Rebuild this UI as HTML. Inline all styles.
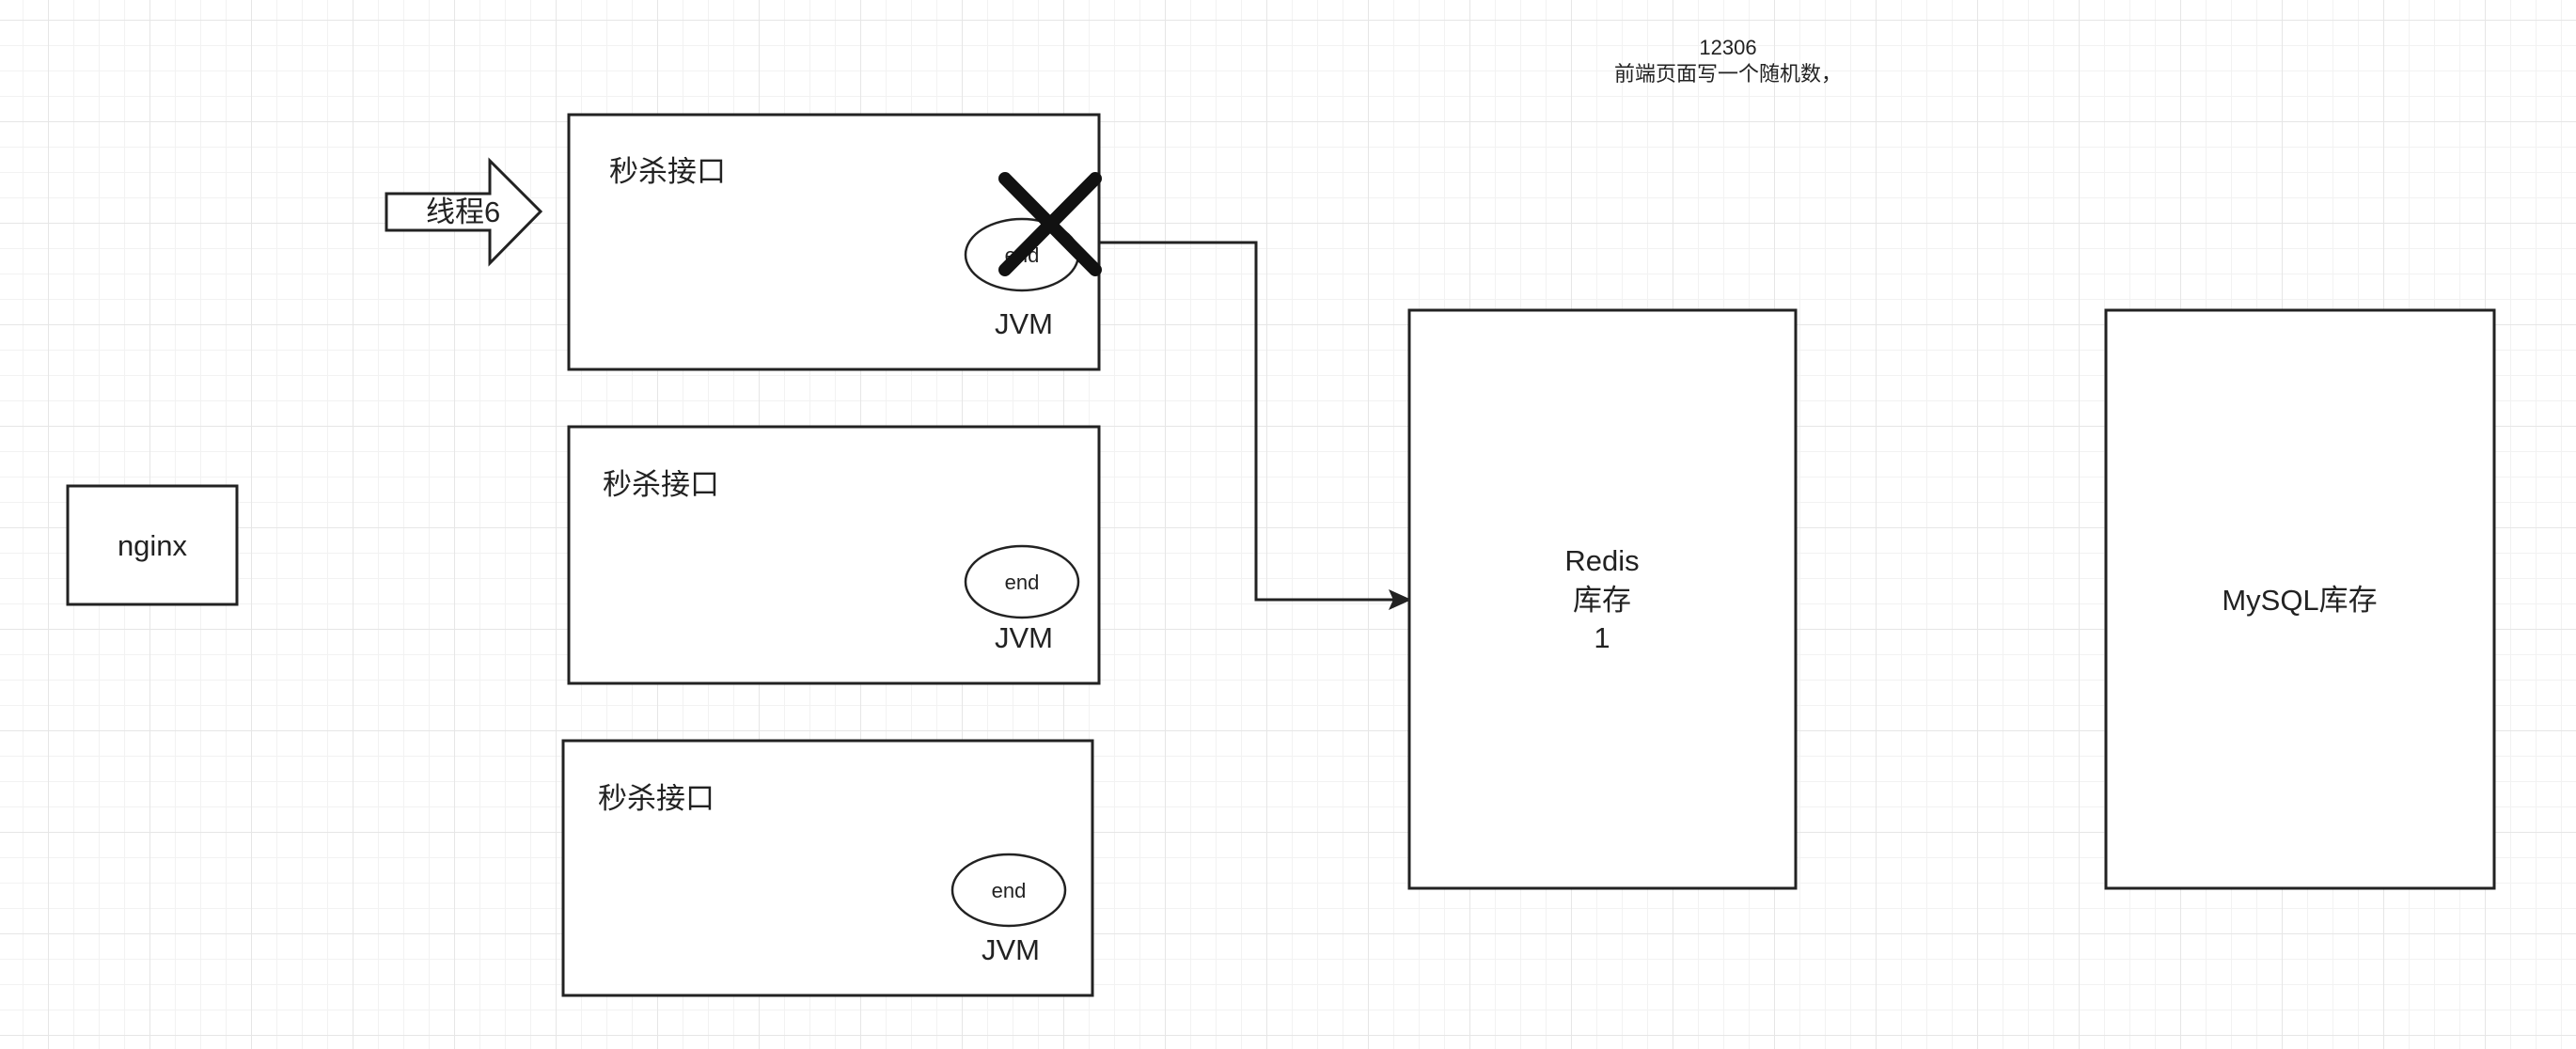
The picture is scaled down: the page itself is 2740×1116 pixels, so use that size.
<!DOCTYPE html>
<html><head><meta charset="utf-8"><style>
html,body{margin:0;padding:0;background:#fff;}
svg{display:block;}
text{font-family:"Liberation Sans","Noto Sans CJK SC",sans-serif;fill:#222;}
</style></head><body>
<svg width="2740" height="1116" viewBox="0 0 2740 1116" xmlns="http://www.w3.org/2000/svg">
<defs>
<pattern id="minor" x="24" y="21" width="27" height="27" patternUnits="userSpaceOnUse">
<path d="M0 0V27M0 0H27" stroke="#f2f2f2" stroke-width="2" fill="none"/>
</pattern>
<pattern id="major" x="51" y="21" width="108" height="108" patternUnits="userSpaceOnUse">
<path d="M0 0V108M0 0H108" stroke="#e6e6e6" stroke-width="2" fill="none"/>
</pattern>
</defs>
<rect width="2740" height="1116" fill="#fff"/>
<rect width="2740" height="1116" fill="url(#minor)"/>
<rect width="2740" height="1116" fill="url(#major)"/>

<text x="1838" y="58" font-size="22" text-anchor="middle">12306</text>
<text x="1838" y="86" font-size="22" text-anchor="middle">前端页面写一个随机数，</text>

<rect x="72" y="517" width="180" height="126" fill="#fff" stroke="#222" stroke-width="3"/>
<text x="162" y="591" font-size="31" text-anchor="middle">nginx</text>

<path d="M411 206H521V171L575 225L521 280V245H411Z" fill="#fff" stroke="#222" stroke-width="3"/>
<text x="453" y="236" font-size="31">线程6</text>

<rect x="605" y="122" width="564" height="271" fill="#fff" stroke="#222" stroke-width="3"/>
<text x="648" y="193" font-size="31">秒杀接口</text>
<ellipse cx="1087" cy="271" rx="60" ry="38" fill="#fff" stroke="#222" stroke-width="2.5"/>
<text x="1087" y="279" font-size="22" text-anchor="middle">end</text>
<text x="1089" y="355" font-size="31" text-anchor="middle">JVM</text>
<path d="M1069 190L1165 287M1165 190L1069 287" stroke="#111" stroke-width="14" stroke-linecap="round"/>

<rect x="605" y="454" width="564" height="273" fill="#fff" stroke="#222" stroke-width="3"/>
<text x="641" y="526" font-size="31">秒杀接口</text>
<ellipse cx="1087" cy="619" rx="60" ry="38" fill="#fff" stroke="#222" stroke-width="2.5"/>
<text x="1087" y="627" font-size="22" text-anchor="middle">end</text>
<text x="1089" y="689" font-size="31" text-anchor="middle">JVM</text>

<rect x="599" y="788" width="563" height="271" fill="#fff" stroke="#222" stroke-width="3"/>
<text x="636" y="860" font-size="31">秒杀接口</text>
<ellipse cx="1073" cy="947" rx="60" ry="38" fill="#fff" stroke="#222" stroke-width="2.5"/>
<text x="1073" y="955" font-size="22" text-anchor="middle">end</text>
<text x="1075" y="1021" font-size="31" text-anchor="middle">JVM</text>

<path d="M1169 258H1336V638H1482" fill="none" stroke="#222" stroke-width="3"/>
<path d="M1499 638L1479 629L1483 638L1479 647Z" fill="#222" stroke="#222" stroke-width="2"/>

<rect x="1499" y="330" width="411" height="615" fill="#fff" stroke="#222" stroke-width="3"/>
<text x="1704" y="607" font-size="31" text-anchor="middle">Redis</text>
<text x="1704" y="649" font-size="31" text-anchor="middle">库存</text>
<text x="1704" y="689" font-size="31" text-anchor="middle">1</text>

<rect x="2240" y="330" width="413" height="615" fill="#fff" stroke="#222" stroke-width="3"/>
<text x="2446" y="649" font-size="31" text-anchor="middle">MySQL库存</text>
</svg>
</body></html>
